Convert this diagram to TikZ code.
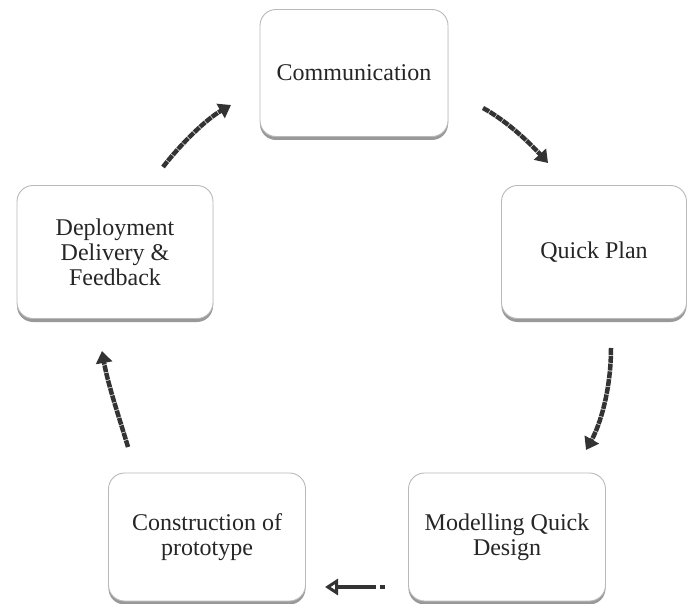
\documentclass[tikz,border=0pt]{standalone}
\usepackage{fontspec}
\setmainfont{Liberation Serif}
\usetikzlibrary{arrows.meta,shadows}

\tikzset{
  stage/.style={draw=gray!55, line width=0.9pt, rounded corners=16pt, fill=white,
    align=center, text=black!85, inner sep=0pt,
    font=\fontsize{24}{25}\selectfont,
    drop shadow={shadow xshift=0pt, shadow yshift=-3.5pt, fill=gray!80, opacity=1}},
  flow/.style={line width=4.5pt, draw=black!80, dash pattern=on 7pt off 0.8pt,
    -{Triangle[width=16pt,length=12pt,fill=black!80]}},
  flowopen/.style={line width=4.5pt, draw=black!80, dash pattern=on 5pt off 4pt on 60pt off 0pt,
    -{Triangle[open,width=16pt,length=13pt,line width=3pt]}}
}

\begin{document}
\begin{tikzpicture}[x=1pt,y=-1pt]
  \useasboundingbox (0,0) rectangle (688,604);

  % the five stages of the cycle
  \node[stage, minimum width=188pt, minimum height=127pt] (comm) at (354,73) {Communication};
  \node[stage, minimum width=185pt, minimum height=133pt] (plan) at (594,252) {Quick Plan};
  \node[stage, minimum width=197pt, minimum height=128pt] (model) at (507,537) {Modelling Quick\\Design};
  \node[stage, minimum width=197pt, minimum height=128pt] (build) at (207,537) {Construction of\\prototype};
  \node[stage, minimum width=196pt, minimum height=133pt] (deploy) at (115,252) {Deployment\\Delivery \&\\Feedback};

  % arrow end points
  \coordinate (a1s) at (483,108); \coordinate (a1e) at (548,163);
  \coordinate (a2s) at (611,348); \coordinate (a2e) at (586,450);
  \coordinate (a3s) at (385,587); \coordinate (a3e) at (325,587);
  \coordinate (a4s) at (128,447); \coordinate (a4e) at (102,351);
  \coordinate (a5s) at (163,167); \coordinate (a5e) at (231,105);

  % connectors around the cycle
  \draw[flow] (a1s) .. controls (505,120) and (527,140) .. (a1e);
  \draw[flow] (a2s) .. controls (611,390) and (600,425) .. (a2e);
  \draw[flowopen] (a3s) -- (a3e);
  \draw[flow] (a4s) .. controls (120,420) and (108,385) .. (a4e);
  \draw[flow] (a5s) .. controls (180,145) and (205,120) .. (a5e);
\end{tikzpicture}
\end{document}
